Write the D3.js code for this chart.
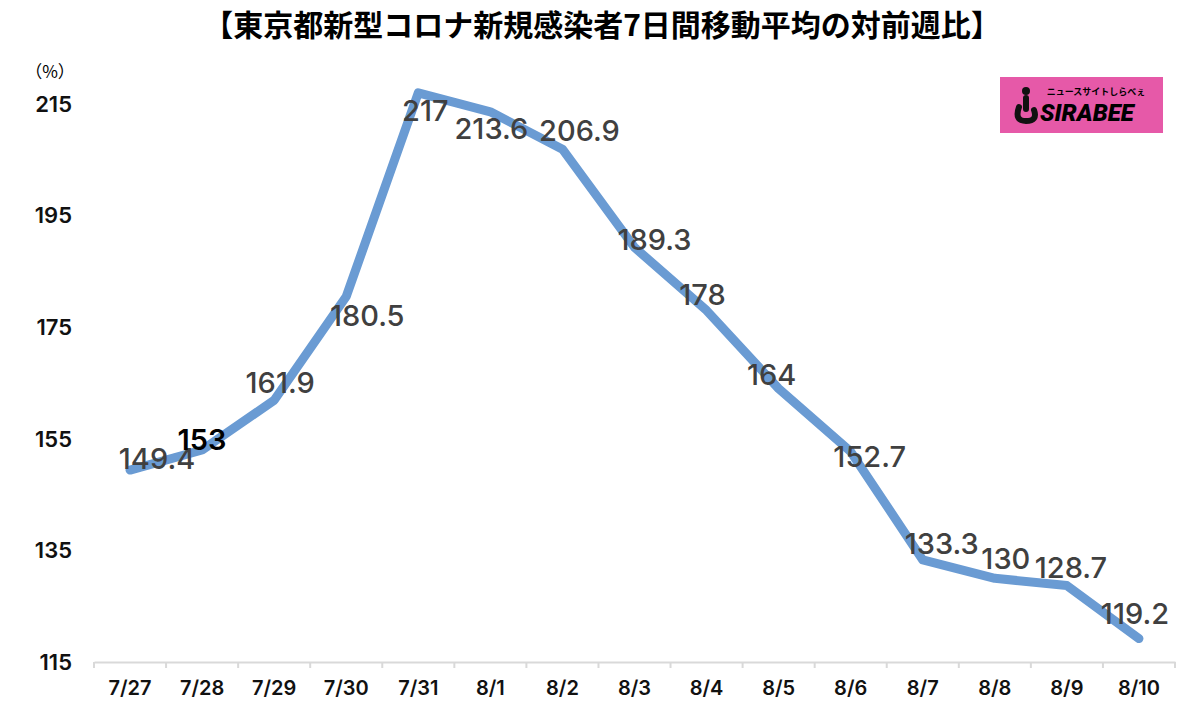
<!DOCTYPE html>
<html lang="ja">
  <head>
    <meta charset="UTF-8" />
    <title>東京都新型コロナ新規感染者7日間移動平均の対前週比</title>
    <style>
      body {
        margin: 0;
        background: #fff;
        font-family: Inter, "Noto Sans CJK JP", sans-serif;
      }
      .title {
        font-family: "Noto Sans CJK JP", sans-serif;
        font-weight: 700;
        font-size: 30px;
      }
      .ytick {
        font-size: 22px;
        font-weight: 600;
        fill: #111;
      }
      .xtick {
        font-size: 20px;
        font-weight: 600;
        fill: #111;
        font-family: Inter, sans-serif;
      }
      .value {
        font-size: 29px;
        font-weight: 500;
        fill: #404040;
      }
    </style>
  </head>
  <body>
    <div id="chart"></div>
    <script src="https://d3js.org/d3.v7.min.js"></script>
    <script>
      const width = 1200;
      const height = 705;

      const dates = ["7/27", "7/28", "7/29", "7/30", "7/31", "8/1", "8/2", "8/3", "8/4", "8/5", "8/6", "8/7", "8/8", "8/9", "8/10"];
      const ratios = [149.4, 153, 161.9, 180.5, 217, 213.6, 206.9, 189.3, 178, 164, 152.7, 133.3, 130, 128.7, 119.2];
      const yTicks = [115, 135, 155, 175, 195, 215];
      // label nudges relative to the point, like the hand-placed excel labels
      const labelDx = [27, 0, 6, 21, 7, 1, 17, 20, -4, -7, 19, 19, 11, 4, -4];
      const labelDy = [-11, -10, -18, 19, 18, 17, -19, -8, -16, -14, 5, -16, -20, -18, -25];

      const svg = d3
        .select("#chart")
        .append("svg")
        .attr("width", width)
        .attr("height", height);

      const x = d3.scaleBand().domain(dates).range([94, 1175]);
      const y = d3.scaleLinear().domain([115, 215]).range([662, 104]);

      svg
        .append("text")
        .attr("class", "title")
        .attr("x", 602)
        .attr("y", 36)
        .attr("text-anchor", "middle")
        .text("【東京都新型コロナ新規感染者7日間移動平均の対前週比】");

      svg
        .append("text")
        .attr("x", 50)
        .attr("y", 78)
        .attr("text-anchor", "middle")
        .style("font-size", "17px")
        .style("font-family", "Noto Sans CJK JP")
        .text("（%）");

      // y labels only, no axis line
      svg
        .selectAll(".ytick")
        .data(yTicks)
        .enter()
        .append("text")
        .attr("class", "ytick")
        .attr("x", 72)
        .attr("y", (d) => y(d))
        .attr("dy", "0.35em")
        .attr("text-anchor", "end")
        .text((d) => d);

      const xAxis = svg
        .append("g")
        .attr("transform", `translate(0,${y(115)})`)
        .call(
          d3.axisBottom(x).tickSize(0).tickPadding(19)
        );
      xAxis.select(".domain").attr("stroke", "#d9d9d9").attr("stroke-width", 2);
      xAxis.selectAll(".tick text").attr("class", "xtick");
      // boundary ticks between categories
      const bounds = dates.map((d) => x(d)).concat([x.range()[1]]);
      xAxis
        .selectAll(".bound")
        .data(bounds)
        .enter()
        .append("line")
        .attr("x1", (d) => d)
        .attr("x2", (d) => d)
        .attr("y1", 0)
        .attr("y2", 6)
        .attr("stroke", "#d9d9d9")
        .attr("stroke-width", 2);

      const pts = dates.map((d, i) => ({ d, v: ratios[i], i }));
      const cx = (p) => x(p.d) + x.bandwidth() / 2;

      const line = d3
        .line()
        .x(cx)
        .y((p) => y(p.v));

      svg
        .append("path")
        .datum(pts)
        .attr("d", line)
        .attr("fill", "none")
        .attr("stroke", "#6a9bd3")
        .attr("stroke-width", 9)
        .attr("stroke-linecap", "round")
        .attr("stroke-linejoin", "round");

      svg
        .selectAll(".value")
        .data(pts)
        .enter()
        .append("text")
        .attr("class", "value")
        .attr("x", (p) => cx(p) + labelDx[p.i])
        .attr("y", (p) => y(p.v) + labelDy[p.i])
        .attr("dy", "0.36em")
        .attr("text-anchor", "middle")
        .style("fill", (p) => (p.d === "7/28" ? "#000" : null))
        .style("font-weight", (p) => (p.d === "7/28" ? 600 : null))
        .text((p) => p.v);

      // sirabee badge
      const logo = svg.append("g").attr("transform", "translate(1000,77)");
      logo.append("rect").attr("width", 163).attr("height", 56).attr("fill", "#e659a8");
      logo
        .append("text")
        .attr("x", 96)
        .attr("y", 18)
        .attr("text-anchor", "middle")
        .style("font-family", "Noto Sans CJK JP")
        .style("font-size", "9px")
        .style("font-weight", 700)
        .text("ニュースサイトしらべぇ");
      logo
        .append("text")
        .attr("x", 40)
        .attr("y", 44)
        .style("font-family", "Roboto")
        .style("font-size", "24px")
        .style("font-weight", 900)
        .style("font-style", "italic")
        .text("SIRABEE");
      logo.append("circle").attr("cx", 26).attr("cy", 14).attr("r", 4).attr("fill", "#111");
      logo
        .append("path")
        .attr("d", "M26 21 V32 M19 30 Q14 44 26 44 Q38 44 34 33")
        .attr("fill", "none")
        .attr("stroke", "#111")
        .attr("stroke-width", 6)
        .attr("stroke-linecap", "round");
    </script>
  </body>
</html>
